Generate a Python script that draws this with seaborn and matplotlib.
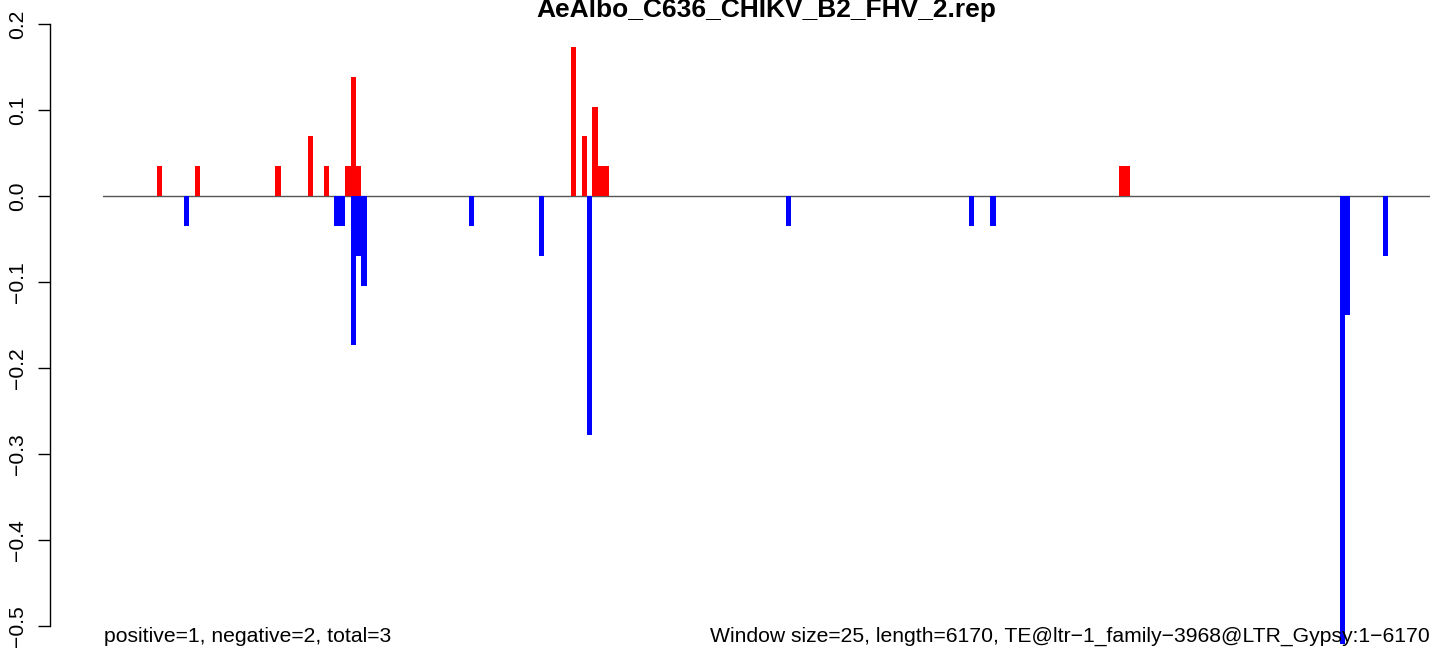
import pandas as pd
import matplotlib
matplotlib.use("Agg")
import matplotlib.pyplot as plt
import seaborn as sns

# unit step of the signal (one read in a window)
u = 0.0347

# windows with positive signal and their heights (in units of u)
pos_windows = [1, 8, 23, 29, 32, 36, 37, 38, 78, 80, 82, 83, 84, 180, 181]
pos_units = [1, 1, 1, 2, 1, 1, 4, 1, 5, 2, 3, 1, 1, 1, 1]

# windows with negative signal and their depths (in units of u)
neg_windows = [6, 34, 35, 37, 38, 39, 59, 72, 81, 118, 152, 156, 221, 222, 229]
neg_units = [1, 1, 1, 5, 2, 3, 1, 2, 8, 1, 1, 1, 15, 4, 2]

title = "AeAlbo_C636_CHIKV_B2_FHV_2.rep"
left_note = "positive=1, negative=2, total=3"
right_note = "Window size=25, length=6170, TE@ltr\u22121_family\u22123968@LTR_Gypsy:1\u22126170"
yticks = [-0.5, -0.4, -0.3, -0.2, -0.1, 0.0, 0.1, 0.2]
ytick_labels = ["\u22120.5", "\u22120.4", "\u22120.3", "\u22120.2", "\u22120.1", "0.0", "0.1", "0.2"]

pos = pd.DataFrame({"window": pos_windows, "value": [k * u for k in pos_units]})
neg = pd.DataFrame({"window": neg_windows, "value": [-k * u for k in neg_units]})

plt.rcParams["font.family"] = ["Liberation Sans", "DejaVu Sans"]

fig = plt.figure(figsize=(14.44, 6.56), dpi=100)
ax = fig.add_axes([103 / 1444, 6 / 656, 1327 / 1444, 650 / 656])

sns.barplot(data=pos, x="window", y="value", native_scale=True, color="#ff0000",
            saturation=1, width=1, errorbar=None, linewidth=0, ax=ax)
sns.barplot(data=neg, x="window", y="value", native_scale=True, color="#0000ff",
            saturation=1, width=1, errorbar=None, linewidth=0, ax=ax)

ax.axhline(0, color="#555555", lw=1, zorder=0)
ax.set_xlim(-9.55, 237.3)
ax.set_ylim(-0.528, 0.228)

# R-like axes: only a detached left axis (outward offset is in points)
for s in ["top", "right", "bottom"]:
    ax.spines[s].set_visible(False)
ax.spines["left"].set_position(("outward", 53 * 0.72))
ax.spines["left"].set_bounds(-0.5, 0.2)
ax.spines["left"].set_linewidth(1)
ax.set_xticks([])
ax.set_yticks(yticks)
ax.set_yticklabels(ytick_labels, rotation=90, va="center", fontsize=15.2)
ax.tick_params(axis="y", length=8.6, width=1, pad=8)
ax.set_xlabel("")
ax.set_ylabel("")

fig.text(766 / 1444, 1 - 17 / 656, title, ha="center", va="baseline",
         fontsize=19, fontweight="bold")
fig.text(104 / 1444, 1 - 636 / 656, left_note, ha="left", va="center", fontsize=15.2)
fig.text(1430 / 1444, 1 - 636 / 656, right_note, ha="right", va="center", fontsize=15.2)

fig.savefig("out.png", dpi=100)
